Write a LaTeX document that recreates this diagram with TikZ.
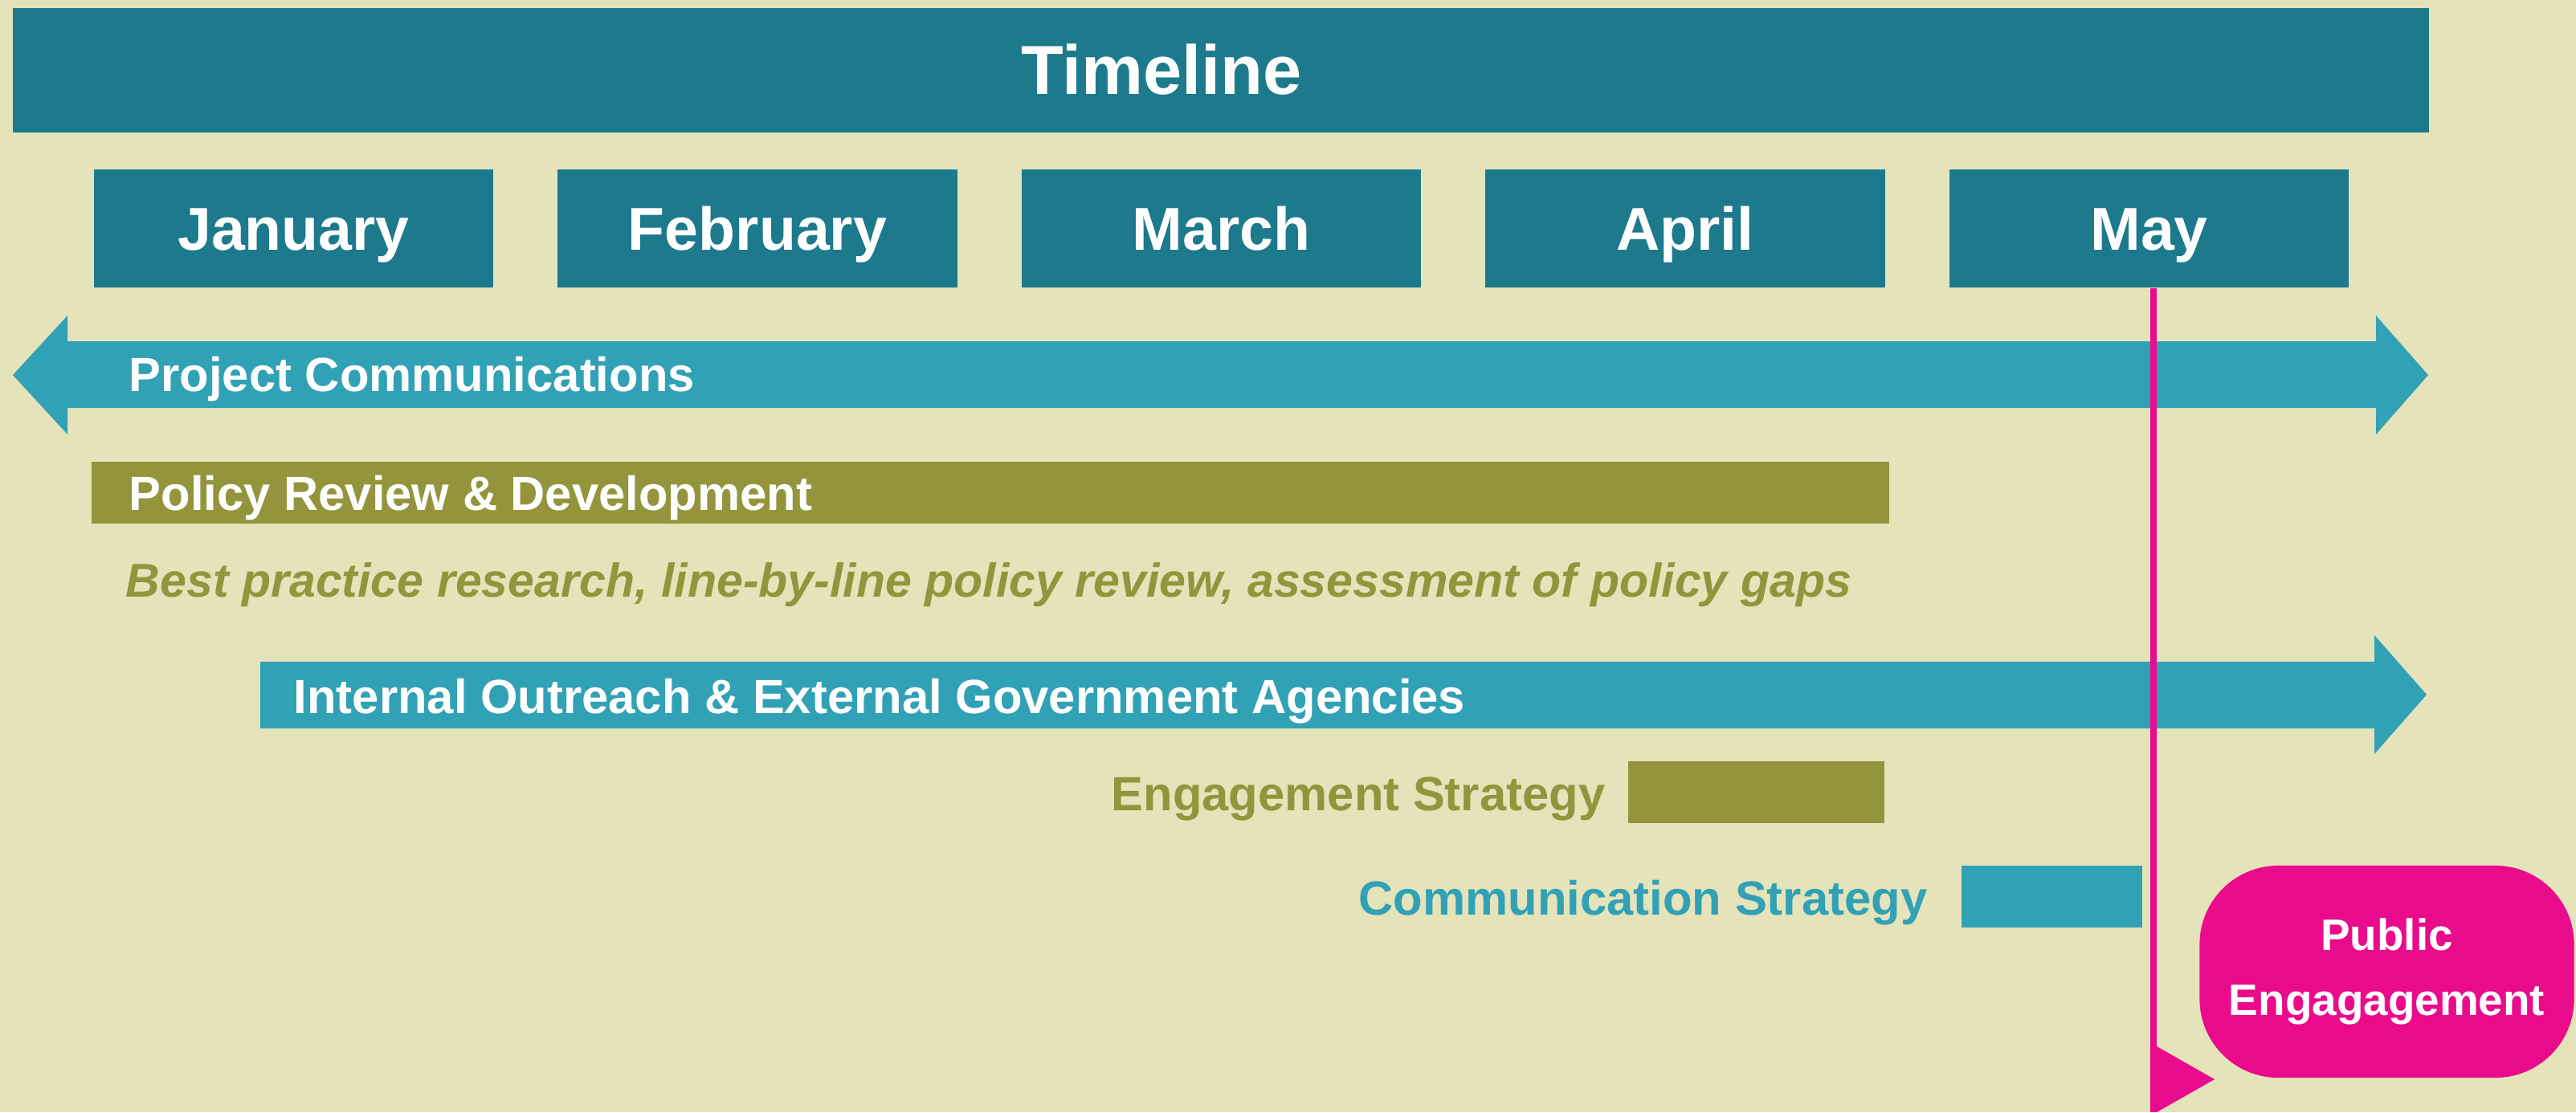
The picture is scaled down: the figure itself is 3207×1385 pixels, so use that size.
\documentclass[tikz,border=0pt]{standalone}
\usepackage{fontspec}
\setmainfont{Liberation Sans}

\definecolor{bgcream}{RGB}{229,227,186}
\definecolor{darkteal}{RGB}{28,122,140}
\definecolor{lightteal}{RGB}{49,161,181}
\definecolor{olivebar}{RGB}{148,148,61}
\definecolor{pubpink}{RGB}{233,11,139}

\tikzset{
    titlebox/.style={fill=darkteal, minimum width=30.06cm, minimum height=1.55cm, inner sep=0pt},
    titletext/.style={anchor=base, text=white, inner sep=0pt, font=\fontsize{24.6}{28}\selectfont\bfseries},
    monthbox/.style={fill=darkteal, text=white, minimum width=4.97cm, minimum height=1.47cm,
        inner sep=0pt, text height=15.3pt, text depth=0pt, font=\fontsize{21.4}{24}\selectfont\bfseries},
    barlabel/.style={anchor=base west, text=white, inner sep=0pt, font=\fontsize{17}{20}\selectfont\bfseries},
    sidelabel/.style={anchor=base east, inner sep=0pt, font=\fontsize{17}{20}\selectfont\bfseries},
    notetext/.style={anchor=base west, text=olivebar, inner sep=0pt, font=\fontsize{16.8}{20}\selectfont\bfseries\itshape},
    pubbox/.style={fill=pubpink, text=white, rounded corners=0.98cm, minimum width=4.66cm, minimum height=2.64cm,
        inner sep=0pt, align=center, font=\fontsize{15.6}{23}\selectfont\bfseries},
    magline/.style={draw=pubpink, line width=0.08cm}
}

\begin{document}
\begin{tikzpicture}[x=0.01cm, y=-0.01cm]
    % Background
    \fill[bgcream] (0,0) rectangle (3207,1385);
    \useasboundingbox (0,0) rectangle (3207,1385);

    % Nodes
    \node[titlebox] (title) at (1520,87.5) {};
    \node[titletext] (timeline) at (1446,117) {Timeline};

    \foreach \m [count=\i] in {January,February,March,April,May}
        \node[monthbox] (m\i) at ({365.5+577.5*(\i-1)},284.5) {\m};

    % Bars
    \fill[lightteal] (16,467) -- (84,393) -- (84,425) -- (2958,425) -- (2958,393) -- (3023,467)
        -- (2958,541) -- (2958,508) -- (84,508) -- (84,541) -- cycle;
    \node[barlabel] (projcomm) at (160,487) {Project Communications};

    \fill[olivebar] (114,575) rectangle (2352,652);
    \node[barlabel] (policy) at (160,635) {Policy Review \& Development};
    \node[notetext] (practice) at (156,743) {Best practice research, line-by-line policy review, assessment of policy gaps};

    \fill[lightteal] (324,824) -- (2956,824) -- (2956,791) -- (3021,865) -- (2956,939) -- (2956,907)
        -- (324,907) -- cycle;
    \node[barlabel] (outreach) at (365,888) {Internal Outreach \& External Government Agencies};

    \fill[olivebar] (2027,948) rectangle (2346,1025);
    \node[sidelabel, text=olivebar] (engage) at (1999,1009) {Engagement Strategy};

    \fill[lightteal] (2442,1078) rectangle (2667,1155);
    \node[sidelabel, text=lightteal] (commstrat) at (2400,1139) {Communication Strategy};

    \node[pubbox] (public) at (2971.5,1210) {Public\\Engagagement};

    % Lines
    \coordinate (lineend) at (2681,1385);
    \draw[magline] (m5.south -| lineend) -- (lineend);
    \fill[pubpink] (2685,1303) -- (2757,1344) -- (2685,1385) -- cycle;

\end{tikzpicture}
\end{document}
